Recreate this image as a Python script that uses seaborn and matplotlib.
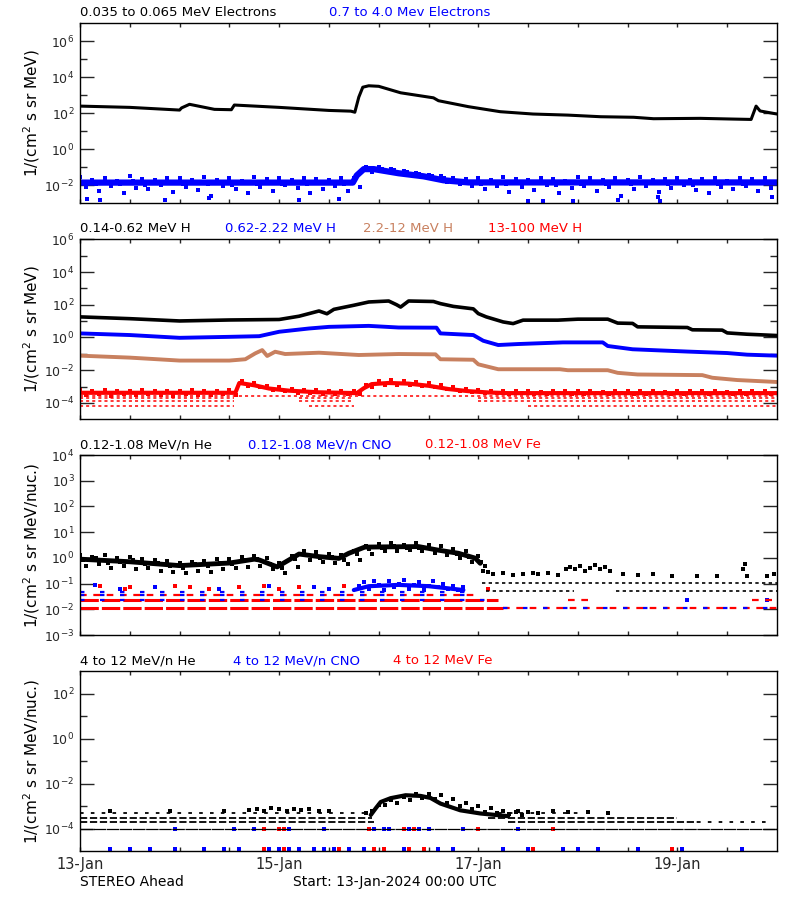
"""
STEREO Ahead - flujos de partículas del 13 al 19 de enero de 2024.
Figura de 4 paneles (electrones, protones, iones 0.12-1.08 y 4-12 MeV/n).
"""
import numpy as np
import seaborn as sns
import matplotlib
matplotlib.use("Agg")
import matplotlib.pyplot as plt
from matplotlib.ticker import FixedLocator, FuncFormatter, NullFormatter

# ==========================================
# 1. DATOS (tiempo en días desde 13-Jan 00:00, flujos en log10)
# ==========================================
t3 = np.arange(56) * 3 / 24      # muestras cada 3 h
t3b = t3 + 1.5 / 24              # las mismas, desplazadas 1.5 h
t3m = t3 + 0.75 / 24             # desplazadas 45 min

# --- Panel 1: electrones ---
e_lo_t = [0, 0.5, 1.0, 1.02, 1.1, 1.35, 1.52, 1.55, 2.0, 2.5, 2.72, 2.76, 2.8, 2.84, 2.9, 3.0,
          3.22, 3.55, 3.6, 3.9, 4.22, 4.55, 4.9, 5.23, 5.56, 5.76, 6.23, 6.56, 6.74, 6.79, 6.83, 7.0]
e_lo_log = [2.4, 2.33, 2.18, 2.3, 2.5, 2.22, 2.2, 2.46, 2.33, 2.16, 2.12, 2.06, 2.9, 3.45, 3.53, 3.5,
            3.14, 2.86, 2.7, 2.37, 2.09, 1.96, 1.9, 1.81, 1.78, 1.7, 1.72, 1.68, 1.66, 2.4, 2.13, 1.96]
e_hi_t = [0, 2.74, 2.78, 2.85, 2.95, 3.2, 3.45, 3.65, 3.9, 7.0]
e_hi_log = [-1.85, -1.85, -1.45, -1.1, -1.1, -1.33, -1.5, -1.72, -1.84, -1.84]
e_hi_arriba = [-1.55, -1.7, -1.6, -1.75, -1.5, -1.65, -1.7, -1.58, -1.62, -1.72, -1.55, -1.68, -1.6, -1.75,
               -1.52, -1.66, -1.6, -1.7, -1.57, -1.64, -1.73, -1.6, -1.6, -0.98, -1.0, -1.08, -1.2, -1.3,
               -1.4, -1.5, -1.62, -1.66, -1.6, -1.72, -1.55, -1.65, -1.7, -1.58, -1.66, -1.74, -1.56, -1.62,
               -1.7, -1.6, -1.68, -1.55, -1.72, -1.63, -1.58, -1.7, -1.66, -1.6, -1.74, -1.57, -1.64, -1.6]
e_hi_medio = [-1.8, -1.95, -1.85, -1.9, -1.78, -2.0, -1.88, -1.82, -1.95, -1.85, -1.9, -1.8, -1.98, -1.86,
              -1.92, -1.8, -1.9, -1.85, -1.95, -1.82, -1.88, -1.93, -1.5, -1.12, -1.08, -1.15, -1.28, -1.38,
              -1.48, -1.6, -1.75, -1.82, -1.9, -1.8, -1.95, -1.85, -1.88, -1.82, -1.97, -1.86, -1.9, -1.8,
              -1.92, -1.85, -1.95, -1.83, -1.88, -1.9, -1.8, -1.96, -1.86, -1.9, -1.82, -1.95, -1.88, -1.85]
e_hi_abajo = [-2.1, -2.3, -2.05, -2.45, -2.15, -2.2, -2.0, -2.35, -2.1, -2.25, -2.6, -2.05, -2.2, -2.4,
              -2.1, -2.3, -2.0, -2.15, -2.45, -2.2, -2.05, -2.3, -2.1, -1.25, -1.22, -1.3, -1.45, -1.55,
              -1.65, -1.8, -1.95, -2.05, -2.2, -2.05, -2.35, -2.1, -2.25, -2.0, -2.4, -2.15, -2.05, -2.3,
              -2.1, -2.6, -2.2, -2.05, -2.35, -2.15, -2.0, -2.25, -2.4, -2.1, -2.2, -2.05, -2.3, -2.15]
e_fuera_t = [0.07, 0.2, 0.85, 1.3, 2.2, 2.6, 4.5, 4.65, 4.95, 5.4, 5.8, 5.82, 6.95]
e_fuera_log = [-2.75, -2.8, -2.8, -2.7, -2.8, -2.75, -2.85, -2.85, -2.85, -2.8, -2.65, -2.85, -2.65]

# --- Panel 2: protones ---
p1_t = [0, 0.5, 1.0, 1.5, 2.0, 2.2, 2.4, 2.48, 2.55, 2.75, 2.9, 3.1, 3.18, 3.22, 3.3, 3.55, 3.62, 3.75,
        3.95, 4.0, 4.08, 4.25, 4.35, 4.45, 4.8, 5.0, 5.3, 5.4, 5.55, 5.6, 6.1, 6.15, 6.45, 6.5, 6.7, 7.0]
p1_log = [1.26, 1.15, 1.01, 1.07, 1.1, 1.3, 1.62, 1.45, 1.72, 1.97, 2.17, 2.23, 2.0, 1.86, 2.23, 2.2, 2.07,
          1.9, 1.75, 1.46, 1.26, 0.95, 0.85, 1.06, 1.06, 1.12, 1.12, 0.88, 0.86, 0.65, 0.61, 0.47, 0.45,
          0.28, 0.2, 0.12]
p2_t = [0, 0.5, 1.0, 1.5, 1.8, 2.0, 2.3, 2.5, 2.9, 3.2, 3.58, 3.62, 3.95, 4.05, 4.2, 4.4, 4.85, 5.25,
        5.3, 5.55, 6.1, 6.5, 6.7, 7.0]
p2_log = [0.25, 0.15, -0.02, 0.04, 0.08, 0.35, 0.55, 0.65, 0.71, 0.61, 0.6, 0.25, 0.15, -0.2, -0.46, -0.4,
          -0.3, -0.3, -0.52, -0.72, -0.86, -0.95, -1.05, -1.11]
p3_t = [0, 0.5, 1.0, 1.5, 1.66, 1.76, 1.83, 1.88, 1.96, 2.06, 2.4, 2.8, 3.2, 3.57, 3.62, 3.95, 4.0, 4.2,
        4.82, 4.9, 5.3, 5.4, 5.6, 6.25, 6.35, 6.6, 7.0]
p3_log = [-1.11, -1.23, -1.41, -1.41, -1.33, -0.97, -0.77, -1.13, -0.87, -1.01, -0.93, -1.07, -1.01, -1.03,
          -1.33, -1.36, -1.64, -1.94, -1.94, -2.0, -2.0, -2.16, -2.26, -2.3, -2.46, -2.6, -2.72]
p4_t = [0, 1.56, 1.6, 1.75, 1.9, 2.1, 2.4, 2.78, 2.85, 2.93, 3.1, 3.3, 3.5, 3.7, 3.9, 4.1, 4.3, 7.0]
p4_log = [-3.38, -3.38, -2.78, -2.92, -3.12, -3.25, -3.35, -3.4, -3.1, -2.85, -2.78, -2.82, -2.95, -3.15,
          -3.28, -3.36, -3.4, -3.4]
p4_arriba = [-3.22, -3.3, -3.18, -3.28, -3.25, -3.2, -3.3, -3.24, -3.28, -3.2, -3.3, -3.26, -3.22, -2.68,
             -2.8, -2.95, -3.05, -3.12, -3.2, -3.18, -3.25, -3.28, -3.3, -2.9, -2.65, -2.62, -2.66, -2.7,
             -2.78, -2.88, -3.02, -3.12, -3.2, -3.25, -3.28, -3.3, -3.25, -3.32, -3.28, -3.3, -3.26, -3.3,
             -3.32, -3.28, -3.3, -3.25, -3.3, -3.32, -3.28, -3.3, -3.3, -3.26, -3.32, -3.3, -3.28, -3.3]
p4_abajo = [-3.5, -3.45, -3.55, -3.48, -3.52, -3.45, -3.5, -3.55, -3.47, -3.5, -3.52, -3.45, -3.5, -2.95,
            -3.05, -3.2, -3.3, -3.38, -3.42, -3.45, -3.45, -3.48, -3.45, -3.05, -2.9, -2.88, -2.9, -2.95,
            -3.05, -3.15, -3.25, -3.35, -3.4, -3.42, -3.45, -3.42, -3.48, -3.45, -3.4, -3.45, -3.48, -3.42,
            -3.45, -3.4, -3.45, -3.48, -3.42, -3.45, -3.45, -3.4, -3.48, -3.42, -3.45, -3.45, -3.4, -3.45]
# filas de cuentas discretas: (nivel log10, día inicio, día fin)
p4_filas = [(-3.55, 0, 7.0), (-3.7, 0, 1.55), (-3.7, 2.2, 2.75), (-3.7, 4.0, 7.0),
            (-3.9, 0, 1.55), (-3.9, 2.2, 2.75), (-3.9, 4.0, 7.0),
            (-4.18, 0, 1.55), (-4.18, 2.3, 2.75), (-4.18, 4.5, 7.0)]

# --- Panel 3: iones 0.12-1.08 MeV/n ---
he3_t = [0, 0.5, 1.0, 1.5, 1.75, 1.8, 1.98, 2.2, 2.4, 2.6, 2.7, 2.86, 3.1, 3.4, 3.6, 3.8, 3.97, 4.02]
he3_log = [-0.05, -0.15, -0.3, -0.2, -0.05, -0.08, -0.35, 0.15, 0.05, -0.02, 0.18, 0.42, 0.43, 0.44,
           0.3, 0.18, -0.01, -0.21]
he3_arriba = [0.12, 0.05, 0.1, 0.0, 0.02, -0.05, -0.1, -0.12, -0.2, -0.15, -0.12, -0.05, -0.06, 0.02,
              0.08, -0.02, -0.2, 0.08, 0.28, 0.22, 0.15, 0.12, 0.25, 0.45, 0.55, 0.58, 0.52, 0.56, 0.5,
              0.45, 0.35, 0.25, 0.08]
he3_medio = [-0.1, 0.0, -0.2, -0.15, -0.1, -0.25, -0.2, -0.3, -0.4, -0.25, -0.3, -0.2, -0.25, -0.1,
             -0.05, -0.25, -0.4, -0.05, 0.1, 0.0, 0.05, -0.1, 0.15, 0.35, 0.4, 0.45, 0.38, 0.4, 0.35,
             0.25, 0.15, 0.05, -0.15]
he3_abajo = [-0.3, -0.25, -0.4, -0.3, -0.45, -0.4, -0.5, -0.55, -0.6, -0.5, -0.55, -0.45, -0.4, -0.35,
             -0.3, -0.45, -0.6, -0.35, -0.1, -0.15, -0.2, -0.25, -0.1, 0.15, 0.28, 0.25, 0.3, 0.25, 0.2,
             0.1, 0.0, -0.15, -0.3]
he3_tarde_t = [4.05, 4.1, 4.15, 4.25, 4.35, 4.45, 4.55, 4.6, 4.7, 4.8, 4.88, 4.92, 4.97, 5.02, 5.07, 5.12,
               5.17, 5.22, 5.27, 5.32, 5.45, 5.6, 5.75, 5.95, 6.2, 6.4, 6.66, 6.68, 6.7, 6.9, 6.97]
he3_tarde_log = [-0.5, -0.55, -0.62, -0.6, -0.66, -0.62, -0.58, -0.64, -0.6, -0.66, -0.42, -0.35, -0.45,
                 -0.3, -0.5, -0.38, -0.28, -0.45, -0.35, -0.5, -0.62, -0.66, -0.64, -0.7, -0.7, -0.72,
                 -0.45, -0.22, -0.7, -0.7, -0.62]
he3_filas = [(-0.96, 4.04, 7.0), (-1.27, 4.08, 4.96), (-1.27, 5.38, 7.0)]
cno3_t = [2.75, 2.9, 3.2, 3.5, 3.85]
cno3_log = [-1.25, -1.1, -1.05, -1.1, -1.25]
cno3_ev_t = [2.8, 2.85, 2.9, 2.95, 3.0, 3.05, 3.1, 3.15, 3.2, 3.25, 3.3, 3.35, 3.4, 3.45, 3.5, 3.55,
             3.6, 3.65, 3.7, 3.75, 3.8, 3.85]
cno3_ev_log = [-1.1, -0.95, -1.2, -0.88, -1.05, -1.25, -0.9, -1.15, -1.0, -0.86, -1.2, -1.05, -0.95,
               -1.25, -1.1, -0.9, -1.15, -1.0, -1.2, -1.1, -1.25, -1.15]
cno3_pts_t = [0.15, 0.4, 0.75, 1.4, 1.9, 2.35, 2.5, 6.1, 6.9]
cno3_pts_log = [-1.05, -1.2, -1.15, -1.2, -1.1, -1.15, -1.2, -1.64, -1.64]
fe3_pts_t = [0.2, 0.45, 0.5, 0.95, 1.1, 1.3, 1.6, 1.85, 2.0, 2.2, 2.65, 4.1]
fe3_pts_log = [-1.1, -1.2, -1.15, -1.1, -1.15, -1.2, -1.15, -1.1, -1.2, -1.15, -1.1, -1.2]
fe3_filas_densas = [(-1.96, 0, 4.25), (-1.64, 0, 4.2)]
fe3_filas_ralas = [(-1.96, 4.25, 7.0), (-1.44, 0, 4.0), (-1.64, 4.9, 5.1), (-1.64, 6.75, 7.0)]
cno3_filas = [(-1.31, 0, 4.0), (-1.96, 4.25, 7.0), (-1.64, 0, 4.2), (-1.44, 0, 3.9)]

# --- Panel 4: iones 4-12 MeV/n ---
he4_t = [2.92, 2.97, 3.02, 3.12, 3.27, 3.42, 3.52, 3.62, 3.72, 3.82, 4.02, 4.3]
he4_log = [-3.4, -3.1, -2.82, -2.65, -2.52, -2.55, -2.64, -2.89, -3.04, -3.19, -3.33, -3.45]
he4_arriba = [-3.3, -2.95, -2.75, -2.58, -2.48, -2.45, -2.52, -2.7, -2.85, -3.0, -3.1, -3.2, -3.25]
he4_abajo = [-3.2, -2.95, -2.85, -2.72, -2.65, -2.68, -2.85, -3.0, -3.15, -3.28, -3.3, -3.35, -3.4]
he4_pts_t = [0.3, 0.9, 1.45, 1.7, 1.78, 1.85, 1.92, 2.0, 2.08, 2.15, 2.22, 2.3, 2.4, 2.5, 4.4, 4.5, 4.6,
             4.75, 4.9, 5.1, 5.3]
he4_pts_log = [-3.2, -3.22, -3.2, -3.18, -3.12, -3.2, -3.1, -3.15, -3.2, -3.12, -3.18, -3.15, -3.2, -3.22,
               -3.2, -3.25, -3.3, -3.2, -3.28, -3.25, -3.3]
he4_filas_densas = [(-3.53, 0, 2.93), (-3.7, 0, 2.95), (-3.53, 4.1, 6.0), (-3.7, 4.3, 6.2)]
he4_filas_ralas = [(-3.33, 0, 2.93), (-3.33, 4.2, 5.0), (-3.7, 6.2, 6.95)]
he4_base = [(-4.0, 0, 7.0)]
cno4_t = [0.3, 0.5, 0.7, 0.95, 1.25, 1.45, 1.6, 1.9, 2.0, 2.1, 2.2, 2.35, 2.45, 2.55, 2.7, 2.85, 3.05,
          3.25, 3.45, 3.6, 3.75, 4.25, 4.5, 4.85, 5.0, 5.2, 5.6, 6.05, 6.65]
cno4_nivel = -4.9
cno4b_t = [0.95, 1.55, 1.75, 2.1, 2.45, 2.95, 3.05, 3.1, 3.3, 3.4, 3.5, 3.85, 4.4]
fe4_t = [1.85, 2.05, 2.6, 2.95, 3.05, 3.3, 3.45, 4.55, 5.95]
fe4b_t = [1.85, 2.0, 2.05, 2.9, 3.25, 3.35, 4.0, 4.75]
nivel_base4 = -4.0

# ==========================================
# 2. ESTILO
# ==========================================
sns.set_style("white")
plt.rcParams["font.family"] = ["DejaVu Sans"]
plt.rcParams["mathtext.fontset"] = "dejavusans"

NEGRO, AZUL, ROJO, MARRON = "black", "#0000ff", "#ff0000", "#c8805f"
FS = 9.5
S = 6   # tamaño de los puntitos


def linea(ax, t, logv, color, lw):
    sns.lineplot(x=np.asarray(t, float), y=10.0 ** np.asarray(logv), color=color, linewidth=lw,
                 estimator=None, sort=False, ax=ax)


def puntos(ax, t, logv, color, s=S):
    sns.scatterplot(x=np.asarray(t, float), y=10.0 ** np.asarray(logv, float), color=color, s=s,
                    marker="s", linewidth=0, ax=ax)


def filas(ax, tabla, color, guion, lw=1.5):
    for nivel, t0, t1 in tabla:
        ax.hlines(10.0 ** nivel, t0, t1, colors=color, linewidth=lw, linestyles=[(0, guion)])


def formato(ax, ymin, ymax, etiquetas, fechas=False):
    ax.set_yscale("log")
    ax.set_xlim(0, 7)
    ax.set_ylim(10.0 ** ymin, 10.0 ** ymax)
    ax.yaxis.set_major_locator(FixedLocator([10.0 ** d for d in etiquetas]))
    ax.yaxis.set_minor_locator(FixedLocator([10.0 ** d for d in range(ymin + 1, ymax) if d not in etiquetas]))
    ax.yaxis.set_major_formatter(FuncFormatter(lambda v, p: r"$10^{%d}$" % round(np.log10(v))))
    ax.yaxis.set_minor_formatter(NullFormatter())
    ax.xaxis.set_major_locator(FixedLocator([0, 2, 4, 6]))
    ax.xaxis.set_minor_locator(FixedLocator([0.5, 1, 1.5, 2.5, 3, 3.5, 4.5, 5, 5.5, 6.5]))
    ax.tick_params(axis="y", which="major", direction="in", length=10, width=1, left=True, right=True,
                   labelsize=9, pad=4)
    ax.tick_params(axis="y", which="minor", direction="in", length=5, width=1, left=True, right=True)
    ax.tick_params(axis="x", which="both", direction="in", length=3, width=1, top=True, bottom=True)
    if fechas:
        ax.set_xticklabels(["13-Jan", "15-Jan", "17-Jan", "19-Jan"])
        ax.tick_params(axis="x", labelsize=10.5, pad=4)
    else:
        ax.tick_params(axis="x", labelbottom=False)
    for sp in ax.spines.values():
        sp.set_color("black")
        sp.set_linewidth(1)
    ax.set_xlabel("")
    ax.set_ylabel("")


def texto(x, y, s, color=NEGRO, fs=FS, **kw):
    fig.text(x / 800, 1 - y / 900, s, color=color, fontsize=fs, va="center", **kw)


fig = plt.figure(figsize=(8, 9), dpi=100)
axs = [fig.add_axes([0.1, b, 0.87125, 0.2]) for b in (0.7741, 0.5341, 0.2944, 0.0544)]

# ==========================================
# 3. PANEL 1 - ELECTRONES
# ==========================================
ax = axs[0]
puntos(ax, e_fuera_t, e_fuera_log, AZUL)
puntos(ax, t3, e_hi_arriba, AZUL)
puntos(ax, t3m, e_hi_medio, AZUL)
puntos(ax, t3b, e_hi_abajo, AZUL)
linea(ax, e_hi_t, e_hi_log, AZUL, 4.5)
linea(ax, e_lo_t, e_lo_log, NEGRO, 2.2)
formato(ax, -3, 7, [6, 4, 2, 0, -2])

# ==========================================
# 4. PANEL 2 - PROTONES
# ==========================================
ax = axs[1]
filas(ax, p4_filas, ROJO, (2, 2), lw=1.1)
puntos(ax, t3, p4_arriba, ROJO)
puntos(ax, t3b, p4_abajo, ROJO)
linea(ax, p4_t, p4_log, ROJO, 3.0)
linea(ax, p3_t, p3_log, MARRON, 2.8)
linea(ax, p2_t, p2_log, AZUL, 2.8)
linea(ax, p1_t, p1_log, NEGRO, 2.6)
formato(ax, -5, 6, [6, 4, 2, 0, -2, -4])

# ==========================================
# 5. PANEL 3 - IONES 0.12-1.08 MeV/n
# ==========================================
ax = axs[2]
filas(ax, fe3_filas_densas, ROJO, (6, 1), lw=2.2)
filas(ax, fe3_filas_ralas, ROJO, (3, 3), lw=1.6)
filas(ax, cno3_filas, AZUL, (2, 7), lw=1.6)
filas(ax, he3_filas, NEGRO, (2, 2), lw=1.2)
puntos(ax, fe3_pts_t, fe3_pts_log, ROJO)
puntos(ax, cno3_pts_t, cno3_pts_log, AZUL)
linea(ax, cno3_t, cno3_log, AZUL, 3.0)
puntos(ax, cno3_ev_t, cno3_ev_log, AZUL)
puntos(ax, t3[:33], he3_arriba, NEGRO)
puntos(ax, t3m[:33], he3_medio, NEGRO)
puntos(ax, t3b[:33], he3_abajo, NEGRO)
puntos(ax, he3_tarde_t, he3_tarde_log, NEGRO)
linea(ax, he3_t, he3_log, NEGRO, 3.5)
formato(ax, -3, 4, [4, 3, 2, 1, 0, -1, -2, -3])

# ==========================================
# 6. PANEL 4 - IONES 4-12 MeV/n
# ==========================================
ax = axs[3]
filas(ax, he4_base, NEGRO, (10, 0.5), lw=0.9)
filas(ax, he4_filas_densas, NEGRO, (4, 1.5), lw=1.3)
filas(ax, he4_filas_ralas, NEGRO, (2, 4), lw=1.3)
puntos(ax, he4_pts_t, he4_pts_log, NEGRO)
puntos(ax, cno4_t, [cno4_nivel] * len(cno4_t), AZUL)
puntos(ax, fe4_t, [cno4_nivel] * len(fe4_t), ROJO)
puntos(ax, cno4b_t, [nivel_base4] * len(cno4b_t), AZUL)
puntos(ax, fe4b_t, [nivel_base4] * len(fe4b_t), ROJO)
puntos(ax, t3[23:36], he4_arriba, NEGRO)
puntos(ax, t3b[23:36], he4_abajo, NEGRO)
linea(ax, he4_t, he4_log, NEGRO, 3.0)
formato(ax, -5, 3, [2, 0, -2, -4], fechas=True)

# ==========================================
# 7. TEXTOS
# ==========================================
texto(80, 13, "0.035 to 0.065 MeV Electrons")
texto(329, 13, "0.7 to 4.0 Mev Electrons", AZUL)
texto(80, 228, "0.14-0.62 MeV H")
texto(225, 228, "0.62-2.22 MeV H", AZUL)
texto(363, 228, "2.2-12 MeV H", MARRON)
texto(488, 228, "13-100 MeV H", ROJO)
texto(80, 445, "0.12-1.08 MeV/n He")
texto(248, 445, "0.12-1.08 MeV/n CNO", AZUL)
texto(425, 445, "0.12-1.08 MeV Fe", ROJO)
texto(80, 661, "4 to 12 MeV/n He")
texto(233, 661, "4 to 12 MeV/n CNO", AZUL)
texto(393, 661, "4 to 12 MeV Fe", ROJO)

for yc, lab in [(113, "1/(cm$^2$ s sr MeV)"), (329, "1/(cm$^2$ s sr MeV)"),
                (545, "1/(cm$^2$ s sr MeV/nuc.)"), (761, "1/(cm$^2$ s sr MeV/nuc.)")]:
    texto(32, yc, lab, fs=11, rotation=90, ha="center")

texto(80, 882, "STEREO Ahead", fs=10)
texto(293, 882, "Start: 13-Jan-2024 00:00 UTC", fs=10)

fig.savefig("out.png", dpi=100)
